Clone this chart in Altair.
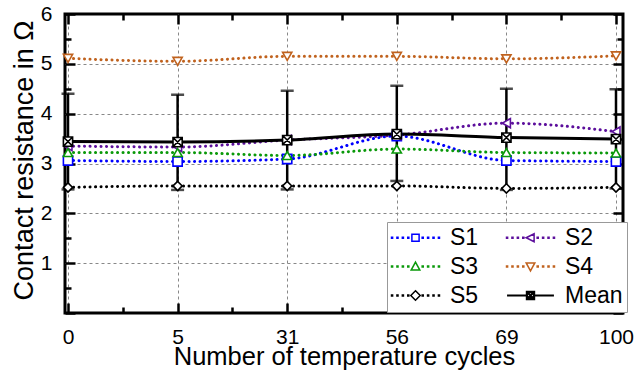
import altair as alt
import pandas as pd

# ---------------- data ----------------
cycles = ["0", "5", "31", "56", "69", "100"]
names = ["S1", "S2", "S3", "S4", "S5", "Mean"]
s1 = [3.06, 3.04, 3.09, 3.55, 3.06, 3.04]
s2 = [3.35, 3.33, 3.47, 3.57, 3.81, 3.64]
s3 = [3.22, 3.22, 3.16, 3.29, 3.22, 3.21]
s4 = [5.11, 5.05, 5.15, 5.15, 5.10, 5.16]
s5 = [2.52, 2.55, 2.55, 2.55, 2.50, 2.52]
mean = [3.44, 3.43, 3.47, 3.59, 3.52, 3.49]
err_hi = [4.40, 4.38, 4.46, 4.56, 4.50, 4.49]
err_lo = [2.48, 2.47, 2.48, 2.65, 2.47, 2.50]

colors = ["#0000ff", "#5c0f9c", "#0a990a", "#c0621e", "#000000", "#000000"]
shapes = ["square", "triangle-left", "triangle-up", "triangle-down", "diamond",
          "M-1,-1H1V1H-1Z M-1,-1L1,1 M1,-1L-1,1"]

FONT = "Liberation Sans"

records = []
for name, vals in zip(names, [s1, s2, s3, s4, s5, mean]):
    for i, v in enumerate(vals):
        records.append({"series": name, "idx": i, "value": v})
df = pd.DataFrame(records)
err = pd.DataFrame({"idx": list(range(len(cycles))), "lo": err_lo, "hi": err_hi})

# ---------------- scales ----------------
xscale = alt.Scale(domain=[-0.0274, 5.0639], nice=False, zero=False)
yscale = alt.Scale(domain=[0, 6], nice=False, zero=False)
cscale = alt.Scale(domain=names, range=colors)
sscale = alt.Scale(domain=["m" + n for n in names], range=shapes)
lscale = alt.Scale(domain=["m" + n for n in names[:5]], range=colors[:5])

xvals = [i / 2 for i in range(2 * len(cycles) - 1)]
yvals = [i / 2 for i in range(13)]
label_arr = "[" + ",".join(f"'{c}'" for c in cycles) + "]"
tick_expr = {"expr": "datum.value % 1 === 0 ? -10 : -6"}

x_axis_bottom = alt.Axis(
    orient="bottom", values=xvals,
    labelExpr=f"datum.value % 1 === 0 ? {label_arr}[datum.value] : ''",
    tickSize=tick_expr, tickWidth=2.5, tickColor="black",
    labelPadding=23, labelFontSize=21, labelFont=FONT, labelColor="black",
    labelFlush=False, labelOverlap=False, domain=False,
    grid=True, gridColor="#888888", gridDash=[3, 3], gridWidth=1,
    gridOpacity={"condition": {"test": "datum.value % 1 === 0", "value": 1}, "value": 0},
    title="Number of temperature cycles", titleFont=FONT, titleFontSize=25.5,
    titleFontWeight="normal", titleColor="black",
    titleX=279, titleY=51, titleBaseline="alphabetic", titleAlign="center",
)
y_axis_left = alt.Axis(
    orient="left", values=yvals,
    labelExpr="datum.value % 1 === 0 && datum.value > 0 ? format(datum.value, 'd') : ''",
    tickSize=tick_expr, tickWidth=2.5, tickColor="black",
    labelPadding=23, labelFontSize=21, labelFont=FONT, labelColor="black",
    labelFlush=False, labelOverlap=False, domain=False,
    grid=True, gridColor="#888888", gridDash=[3, 3], gridWidth=1,
    gridOpacity={"condition": {"test": "datum.value % 1 === 0 && datum.value > 0 && datum.value < 6",
                               "value": 1}, "value": 0},
    title="Contact resistance in Ω", titleFont=FONT, titleFontSize=27,
    titleFontWeight="normal", titleColor="black",
    titleX=-33, titleY=146, titleAngle=-90, titleBaseline="alphabetic", titleAlign="center",
)
x_axis_top = alt.Axis(orient="top", values=xvals, labels=False, grid=False, domain=False,
                      tickSize=tick_expr, tickWidth=2.5, tickColor="black", title=None)
y_axis_right = alt.Axis(orient="right", values=yvals, labels=False, grid=False, domain=False,
                        tickSize=tick_expr, tickWidth=2.5, tickColor="black", title=None)

# ---------------- legend symbols (dotted line + marker) ----------------
def dots(xs):
    return "".join(f"M{x - 0.15:g},-0.15h0.3v0.3h-0.3Z" for x in xs)

dot_xs = [-6.5, -5, -3.5, -2, 2, 3.5, 5, 6.5]
leg_markers = {
    "S1": "M-1,-1H1V1H-1Z",
    "S2": "M-1.2,0L1,-1.1L1,1.1Z",
    "S3": "M0,-1.2L1.2,1L-1.2,1Z",
    "S4": "M0,1.2L1.2,-1L-1.2,-1Z",
    "S5": "M0,-1.3L1.3,0L0,1.3L-1.3,0Z",
    "Mean": "M-1,-1H1V1H-1ZM-1,-1L1,1M1,-1L-1,1",
}
leg_paths = {}
for k, m in leg_markers.items():
    if k == "Mean":
        leg_paths[k] = "M-6.5,0H-1M1,0H6.5" + m
    else:
        leg_paths[k] = dots(dot_xs) + m
shape_expr = " : ".join(f"datum.value === '{k}' ? '{v}'" for k, v in leg_paths.items()) + " : 'circle'"

legend = alt.Legend(
    title=None, orient="none", legendX=322, legendY=208,
    direction="horizontal", columns=2, padding=4,
    fillColor="white", strokeColor="#999999",
    labelFont=FONT, labelFontSize=23, labelColor="black",
    symbolSize=52, symbolOffset=13, labelOffset=23,
    columnPadding=23, rowPadding=5,
    symbolType={"expr": shape_expr},
    symbolFillColor="white",
    symbolStrokeColor={"expr": "scale('color', datum.value)"},
    symbolStrokeWidth={"expr": "datum.value === 'Mean' ? 2.2 : 1.5"},
)

# ---------------- layers ----------------
lines = alt.Chart(df).transform_filter("datum.series !== 'Mean'").transform_calculate(
    mk="'m' + datum.series"
).mark_line(
    strokeDash=[0.1, 5.4], strokeCap="round", strokeWidth=3, interpolate="monotone"
).encode(
    x=alt.X("idx:Q", scale=xscale, axis=x_axis_bottom),
    y=alt.Y("value:Q", scale=yscale, axis=y_axis_left),
    stroke=alt.Stroke("mk:N", scale=lscale, legend=None),
)

mean_line = alt.Chart(df).transform_filter("datum.series === 'Mean'").mark_line(
    color="black", strokeWidth=3, interpolate="monotone"
).encode(
    x=alt.X("idx:Q", scale=xscale, axis=None),
    y=alt.Y("value:Q", scale=yscale, axis=None),
)

err_rule = alt.Chart(err).mark_rule(color="black", strokeWidth=2.5).encode(
    x=alt.X("idx:Q", scale=xscale, axis=None),
    y=alt.Y("lo:Q", scale=yscale, axis=None),
    y2="hi:Q",
)

caps = alt.Chart(err).transform_fold(["lo", "hi"], as_=["end", "v"]).mark_tick(
    color="black", orient="horizontal", size=13, thickness=2.5
).encode(
    x=alt.X("idx:Q", scale=xscale, axis=None),
    y=alt.Y("v:Q", scale=yscale, axis=None),
)

points = alt.Chart(df).transform_calculate(mk="'m' + datum.series").mark_point(
    filled=False, fill="white", fillOpacity=1, size=85, strokeWidth=1.6, opacity=1
).encode(
    x=alt.X("idx:Q", scale=xscale, axis=x_axis_top),
    y=alt.Y("value:Q", scale=yscale, axis=y_axis_right),
    color=alt.Color("series:N", scale=cscale, legend=legend),
    shape=alt.Shape("mk:N", scale=sscale, legend=None),
)

chart = alt.layer(lines, mean_line, err_rule, caps, points).resolve_axis(
    x="independent", y="independent"
).properties(
    width=558, height=299,
    autosize=alt.AutoSizeParams(type="none"),
    padding={"left": 65, "top": 14, "right": 13, "bottom": 63},
    background="white",
).configure_view(stroke="black", strokeWidth=3)

chart.save("out.html", embed_options={"renderer": "svg", "actions": False})
